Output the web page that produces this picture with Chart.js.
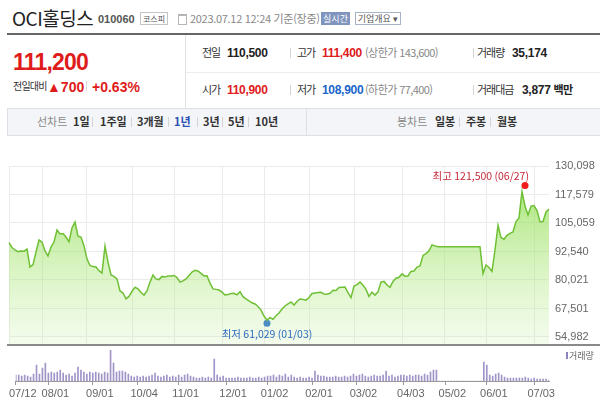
<!DOCTYPE html>
<html lang="ko">
<head>
<meta charset="utf-8">
<script src="https://cdn.jsdelivr.net/npm/chart.js@4"></script>
<style>
body { margin: 0; width: 600px; height: 411px; overflow: hidden; background: #fff; position: relative;
  font-family: 'Liberation Sans', 'Noto Sans CJK KR', sans-serif; color: #333; }
.a { position: absolute; white-space: nowrap; line-height: 1; }
.kr { font-family: 'Noto Sans CJK KR', sans-serif; }
.b { font-weight: bold; }
.red { color: #e01b1b; }
.blue { color: #1a66cc; }
.gray { color: #888; }
.sep { position: absolute; width: 1px; height: 10px; background: #d4d4d4; }
.row { font-size: 11px; letter-spacing: -1px; }
.num { font-size: 12px; letter-spacing: -0.3px; }
.lim { font-size: 11px; letter-spacing: -0.6px; }
.band { font-size: 11px; font-weight: bold; color: #333; }
#priceBox { position: absolute; left: 0; top: 150px; width: 600px; height: 215px; }
#volBox { position: absolute; left: 0; top: 345px; width: 600px; height: 66px; }
</style>
</head>
<body>
<!-- header -->
<div class="a kr" style="left:12px;top:8px;font-size:19px;color:#222;letter-spacing:-0.5px">OCI홀딩스</div>
<div class="a b" style="left:98px;top:14px;font-size:11px;color:#555">010060</div>
<div class="a kr" style="left:140px;top:12px;width:26px;height:11px;border:1px solid #c4c4c4;font-size:8px;line-height:11px;text-align:center;color:#555">코스피</div>
<div class="a" style="left:178px;top:14px;width:7px;height:8px;border:1px solid #b5b5b5;border-top-width:2px"></div>
<div class="a kr gray" style="left:190px;top:13px;font-size:11px;letter-spacing:-0.3px">2023.07.12 12:24 기준(장중)</div>
<div class="a kr" style="left:321px;top:12px;width:29px;height:13px;background:#8095bd;color:#fff;font-size:9px;line-height:13px;text-align:center">실시간</div>
<div class="a kr" style="left:355px;top:12px;width:44px;height:11px;border:1px solid #a8b2c8;color:#555;font-size:9px;line-height:11px;text-align:center">기업개요 ▾</div>
<div class="a" style="left:7px;top:33px;width:593px;height:2px;background:#666"></div>

<!-- price summary -->
<div class="a b red" style="left:13px;top:51px;font-size:23px;letter-spacing:-0.8px">111,200</div>
<div class="a kr" style="left:13px;top:81px;font-size:10px;color:#333;letter-spacing:-0.8px">전일대비</div>
<div class="a b red" style="left:47px;top:80px;font-size:14px">▲700</div>
<div class="sep" style="left:86px;top:81px"></div>
<div class="a b red" style="left:92px;top:80px;font-size:14px">+0.63%</div>

<div class="a" style="left:185px;top:35px;width:1px;height:73px;background:#e2e2e2"></div>
<div class="a" style="left:186px;top:72px;width:414px;height:1px;background:#ececec"></div>

<div class="a kr row" style="left:202px;top:47px">전일</div>
<div class="a b num" style="left:227px;top:47px;color:#222">110,500</div>
<div class="sep" style="left:290px;top:48px"></div>
<div class="a kr row" style="left:297px;top:47px">고가</div>
<div class="a b num red" style="left:322px;top:47px">111,400</div>
<div class="a kr lim gray" style="left:365px;top:47px">(상한가 143,600)</div>
<div class="sep" style="left:473px;top:48px"></div>
<div class="a kr row" style="left:477px;top:47px">거래량</div>
<div class="a b num" style="left:512px;top:47px;color:#222">35,174</div>

<div class="a kr row" style="left:202px;top:84px">시가</div>
<div class="a b num red" style="left:227px;top:84px">110,900</div>
<div class="sep" style="left:290px;top:85px"></div>
<div class="a kr row" style="left:297px;top:84px">저가</div>
<div class="a b num blue" style="left:322px;top:84px">108,900</div>
<div class="a kr lim gray" style="left:365px;top:84px">(하한가 77,400)</div>
<div class="sep" style="left:473px;top:85px"></div>
<div class="a kr row" style="left:477px;top:84px">거래대금</div>
<div class="a b num" style="left:522px;top:84px;color:#222">3,877 <span class="kr" style="font-size:11px;letter-spacing:-0.8px">백만</span></div>

<!-- chart type band -->
<div class="a" style="left:7px;top:108px;width:593px;height:26px;background:#f4f5f8;border:1px solid #dcdfe5;border-right:none"></div>
<div class="a" style="left:306px;top:109px;width:1px;height:26px;background:#dcdfe5"></div>
<div class="a kr" style="left:37px;top:116px;font-size:11px;color:#8a8a8a">선차트</div>
<div class="a kr band" style="left:73px;top:116px">1일</div>
<div class="sep" style="left:92px;top:117px"></div>
<div class="a kr band" style="left:100px;top:116px">1주일</div>
<div class="sep" style="left:131px;top:117px"></div>
<div class="a kr band" style="left:137px;top:116px">3개월</div>
<div class="sep" style="left:168px;top:117px"></div>
<div class="a kr band" style="left:174px;top:116px;color:#2a4fb5">1년</div>
<div class="sep" style="left:197px;top:117px"></div>
<div class="a kr band" style="left:203px;top:116px">3년</div>
<div class="sep" style="left:222px;top:117px"></div>
<div class="a kr band" style="left:228px;top:116px">5년</div>
<div class="sep" style="left:248px;top:117px"></div>
<div class="a kr band" style="left:255px;top:116px">10년</div>
<div class="a kr" style="left:397px;top:116px;font-size:11px;color:#8a8a8a">봉차트</div>
<div class="a kr band" style="left:435px;top:116px">일봉</div>
<div class="sep" style="left:459px;top:117px"></div>
<div class="a kr band" style="left:466px;top:116px">주봉</div>
<div class="sep" style="left:490px;top:117px"></div>
<div class="a kr band" style="left:497px;top:116px">월봉</div>

<div id="volBox"><canvas id="volChart" width="600" height="66"></canvas></div>
<div id="priceBox"><canvas id="priceChart" width="600" height="215"></canvas></div>
<div class="a" style="left:7px;top:344px;width:593px;height:2px;background:#8a8a8a"></div>
<div class="a" style="left:566px;top:352px;width:2px;height:7px;background:#8e82bd"></div>
<div class="a kr" style="left:569px;top:351px;font-size:9px;color:#666">거래량</div>

<script>
// daily close (sampled), 2022-07-12 ~ 2023-07-12
const prices = [
  96400, 94300, 93200, 92500, 92800, 92700, 93600, 85700, 86800, 92300,
  97600, 96700, 92800, 90600, 94500, 96700, 102000, 100200, 100400, 98900,
  96800, 102900, 105500, 99300, 98900, 95000, 89200, 86400, 85900, 85700,
  84100, 83100, 94900, 87900, 82200, 81600, 80500, 75200, 74300, 71700,
  72800, 75100, 76800, 76100, 74500, 73400, 75200, 79100, 82200, 80500,
  80200, 81600, 81300, 81800, 81800, 82000, 81100, 79100, 79600, 80500,
  82000, 83500, 84300, 84000, 82900, 81800, 81900, 78600, 76100, 75900,
  75600, 74700, 73400, 73600, 74100, 74200, 73500, 74900, 72700, 71700,
  70800, 70000, 69500, 68400, 66800, 64200, 62400, 63500, 62800, 64300,
  65500, 67300, 68600, 69500, 70400, 69000, 70600, 71700, 71500, 71200,
  72300, 74100, 74300, 74500, 74600, 73900, 73800, 74200, 75500, 75400,
  76700, 76800, 76900, 74500, 72300, 77400, 78000, 79100, 77700, 75900,
  72800, 74700, 73400, 74800, 79100, 79400, 77800, 76800, 79400, 80800,
  81200, 82700, 81700, 81800, 83800, 84000, 85700, 86200, 90800, 91600,
  92800, 95400, 95000,
  94600, 94600, 94600, 94600, 94600, 94600, 94600, 94600, 94600, 94600, 94600, 94600, 94600, 94600, 94600,
  82800, 86600, 85500, 83800, 93200, 104000, 98700, 97900, 99600, 100500, 101100, 105700,
  107300, 118900, 112500, 108600, 112500, 112700, 110500, 105600, 105700, 109900, 111200
];

// volume, thousand shares
const volumes = [
  120, 120, 100, 120, 100, 80, 140, 320, 140, 260,
  360, 160, 180, 160, 180, 220, 160, 120, 140, 100,
  160, 280, 220, 180, 140, 180, 160, 180, 160, 140,
  180, 160, 620, 360, 180, 200, 200, 180, 140, 100,
  80, 100, 80, 100, 80, 100, 120, 160, 100, 80,
  100, 120, 80, 100, 80, 120, 80, 120, 140, 100,
  80, 60, 60, 80, 60, 80, 60, 440, 120, 80,
  100, 60, 60, 60, 60, 80, 60, 60, 60, 80,
  60, 60, 80, 60, 80, 100, 100, 120, 80, 120,
  100, 140, 80, 120, 80, 60, 80, 60, 60, 80,
  60, 200, 120, 100, 100, 80, 80, 80, 100, 80,
  80, 100, 80, 100, 140, 100, 120, 140, 100, 80,
  100, 120, 100, 100, 120, 200, 100, 120, 80, 100,
  120, 120, 100, 120, 100, 120, 120, 100, 140, 120,
  180, 220, 220,
  0, 0, 0, 0, 0, 0, 0, 0, 0, 0, 0, 0, 0, 0, 0,
  380, 320, 120, 100, 140, 160, 120, 80, 60, 60, 60, 60,
  60, 60, 80, 60, 40, 60, 40, 40, 40, 40, 20
];

const tickLabels = ['07/12', '08/01', '09/01', '10/04', '11/01', '12/01', '01/02', '02/01', '03/02', '04/03', '05/02', '06/01', '07/03'];
const tickIdx = [0, 11, 26, 41, 55, 71, 85, 100, 115, 131, 145, 159, 175];
const priceTicks = [54982, 67501, 80021, 92540, 105059, 117579, 130098];
const priceMin = 51460;
const volMax = 620;

const hiValue = 121500, hiDate = '06/27', hiIdx = 172;
const loValue = 61029, loDate = '01/03', loIdx = 86;

const days = prices.map((_, i) => i);
const fmt = n => n.toLocaleString('en-US');
const FONT = "'Liberation Sans Narrow', 'Liberation Sans', sans-serif";

const markerLabels = {
    id: 'markerLabels',
    afterDatasetsDraw(chart) {
        const { ctx } = chart;
        const x = chart.scales.x, y = chart.scales.y;
        ctx.save();
        ctx.font = "10.5px 'Liberation Sans Narrow', 'Noto Sans CJK KR', sans-serif";
        ctx.textBaseline = 'middle';

        ctx.fillStyle = '#c42a38';
        ctx.textAlign = 'right';
        ctx.fillText(`최고 ${fmt(hiValue)} (${hiDate})`, x.getPixelForValue(hiIdx) + 4, y.getPixelForValue(hiValue) - 10);

        ctx.fillStyle = '#2d6cc0';
        ctx.textAlign = 'center';
        ctx.fillText(`최저 ${fmt(loValue)} (${loDate})`, x.getPixelForValue(loIdx), y.getPixelForValue(loValue) + 11);
        ctx.restore();
    }
};

function fillGradient(context) {
    const area = context.chart.chartArea;
    if (!area) return 'rgba(170,230,120,0.4)';
    const g = context.chart.ctx.createLinearGradient(0, area.top, 0, area.bottom);
    g.addColorStop(0, 'rgba(140,220,75,0.85)');
    g.addColorStop(1, 'rgba(200,240,165,0.2)');
    return g;
}

new Chart(document.getElementById('priceChart'), {
    type: 'line',
    data: {
        labels: days,
        datasets: [
            {
                data: prices,
                borderColor: '#6fc035',
                borderWidth: 1.5,
                pointRadius: 0,
                tension: 0,
                fill: 'start',
                backgroundColor: fillGradient
            },
            {
                data: days.map(i => i === hiIdx ? hiValue : null),
                showLine: false,
                pointRadius: 3.5,
                pointBackgroundColor: '#f01c1c',
                pointBorderWidth: 0
            },
            {
                data: days.map(i => i === loIdx ? loValue : null),
                showLine: false,
                pointRadius: 3.5,
                pointBackgroundColor: '#1f68d4',
                pointBorderWidth: 0
            }
        ]
    },
    options: {
        responsive: false,
        animation: false,
        devicePixelRatio: 1,
        layout: { padding: { left: 9, top: 16, bottom: 20, right: 0 } },
        plugins: { legend: { display: false }, tooltip: { enabled: false } },
        scales: {
            x: {
                type: 'category',
                offset: false,
                grid: { color: '#ebebeb', drawTicks: false, offset: false },
                border: { display: false },
                ticks: { display: false, autoSkip: false },
                afterBuildTicks: axis => { axis.ticks = tickIdx.map(v => ({ value: v })); },
                afterFit: axis => { axis.height = 0; }
            },
            y: {
                position: 'right',
                min: priceMin,
                max: priceTicks[priceTicks.length - 1],
                grid: { color: '#ebebeb', drawTicks: false },
                border: { display: false },
                ticks: { color: '#666', padding: 6, font: { family: FONT, size: 11 }, callback: v => fmt(v) },
                afterBuildTicks: axis => { axis.ticks = priceTicks.map(v => ({ value: v })); },
                afterFit: axis => { axis.width = 51; }
            }
        }
    },
    plugins: [markerLabels]
});

new Chart(document.getElementById('volChart'), {
    type: 'bar',
    data: {
        labels: days,
        datasets: [{
            data: volumes,
            backgroundColor: '#a195c8',
            barThickness: 1
        }]
    },
    options: {
        responsive: false,
        animation: false,
        devicePixelRatio: 1,
        layout: { padding: { left: 9, top: 5, bottom: 0, right: 51 } },
        plugins: { legend: { display: false }, tooltip: { enabled: false } },
        scales: {
            x: {
                type: 'category',
                offset: false,
                grid: { drawOnChartArea: false, drawTicks: true, tickLength: 4, color: '#999', offset: false },
                border: { display: true, color: '#999' },
                ticks: {
                    autoSkip: false, maxRotation: 0, labelOffset: 7, padding: 2,
                    color: '#666', font: { family: FONT, size: 11 },
                    callback: (v, i) => tickLabels[i]
                },
                afterBuildTicks: axis => { axis.ticks = tickIdx.map(v => ({ value: v })); },
                afterFit: axis => { axis.height = 30; }
            },
            y: { display: false, min: 0, max: volMax }
        }
    }
});
</script>
</body>
</html>
